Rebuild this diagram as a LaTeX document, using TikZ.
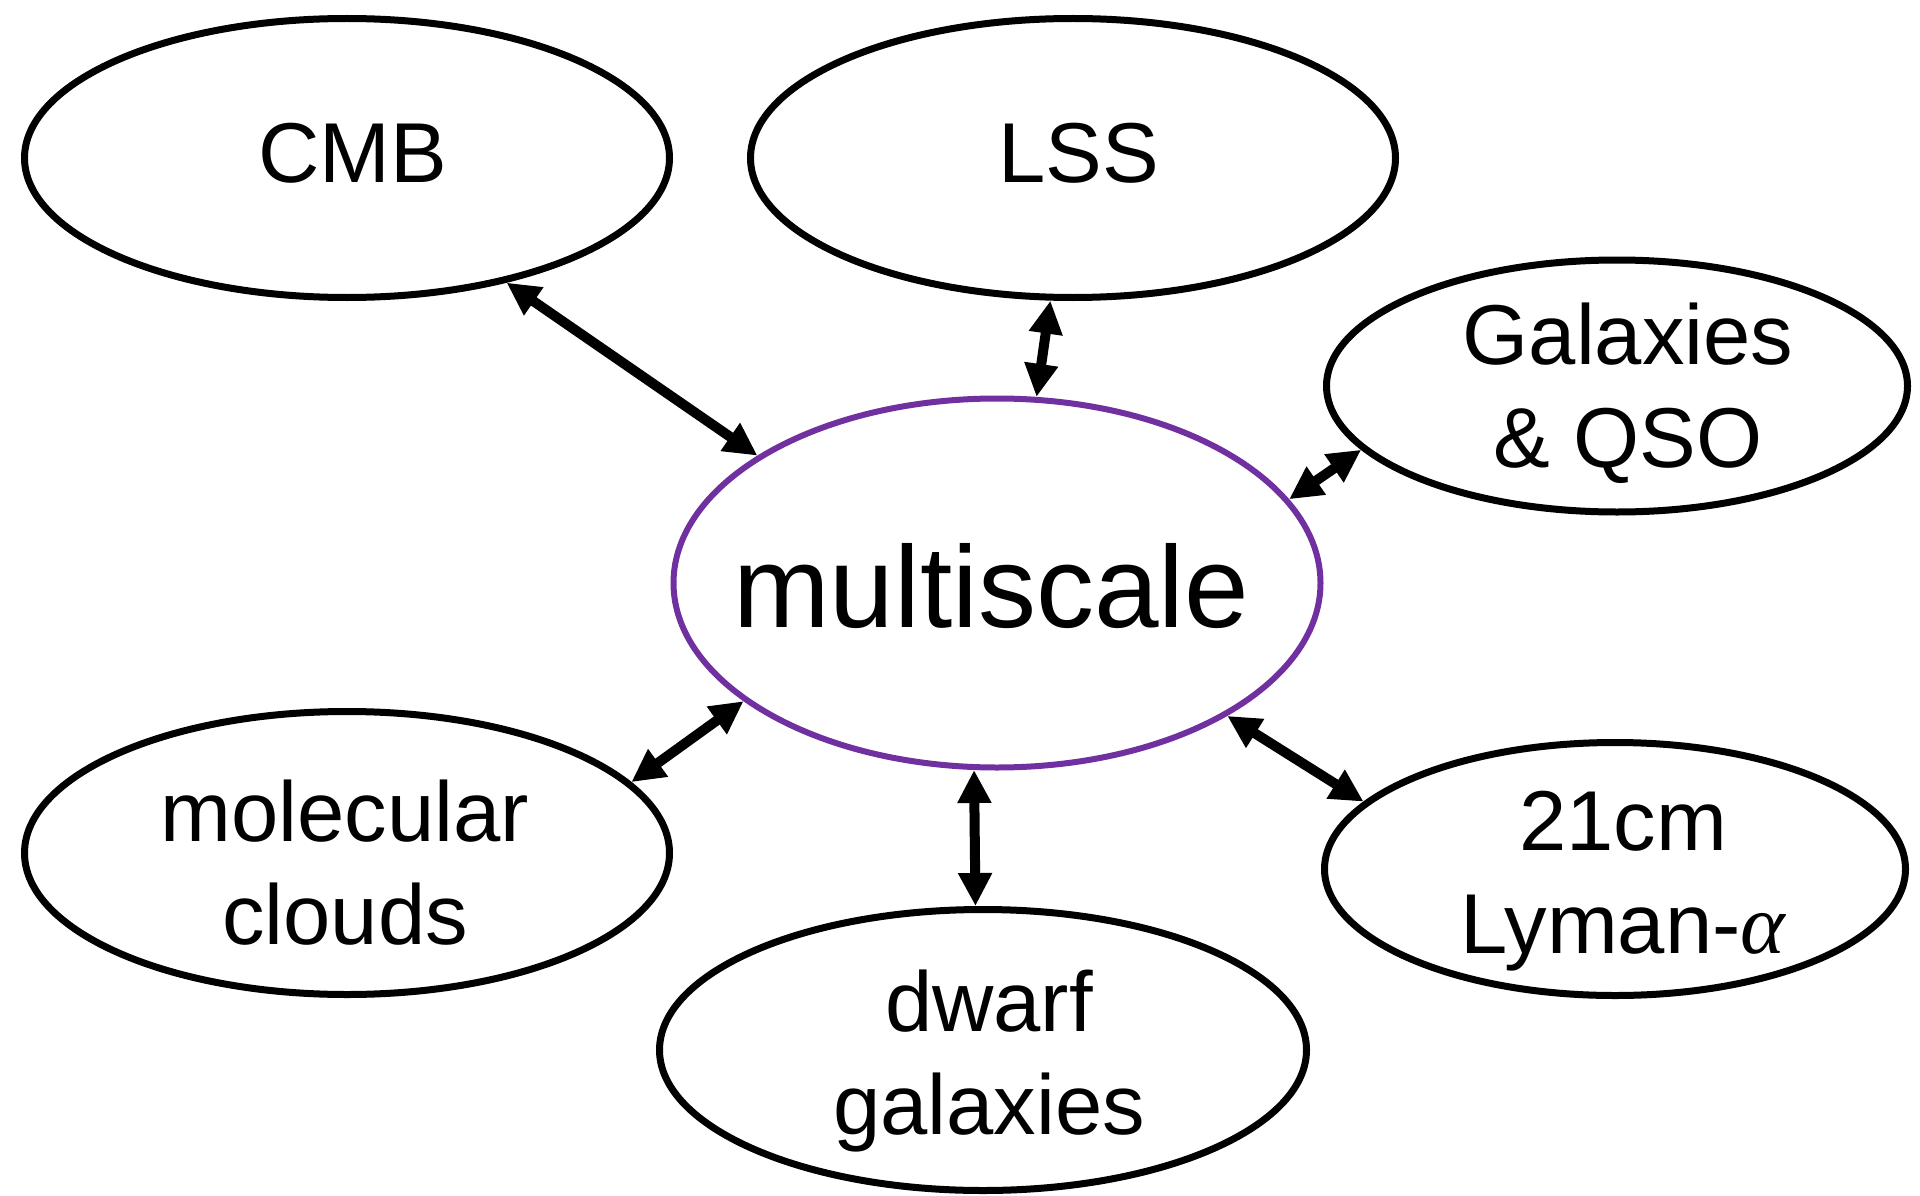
\documentclass[tikz,border=0pt]{standalone}
\usepackage{fontspec}
\setmainfont{Liberation Sans}
\newfontfamily\greekfont{Liberation Serif}
\usetikzlibrary{shapes.geometric,arrows.meta}
\definecolor{scalepurple}{HTML}{7030A0}
\begin{document}
\begin{tikzpicture}[x=1pt,y=-1pt,
  bubble/.style={ellipse, draw=black, line width=7pt, inner sep=0pt},
  bubbletext/.style={align=center, inner sep=0pt, font=\fontsize{85}{103}\selectfont},
  link/.style={line width=10pt, {Triangle[length=33pt,width=32pt]}-{Triangle[length=33pt,width=32pt]}}
]
\useasboundingbox (0,0) rectangle (1920,1196);

% outer topics
\node[bubble, minimum width=645pt, minimum height=279pt] (cmb)   at (347,158)  {};
\node[bubble, minimum width=645pt, minimum height=279pt] (lss)   at (1073,158) {};
\node[bubble, minimum width=581pt, minimum height=252pt] (gal)   at (1617,386) {};
\node[bubble, minimum width=645pt, minimum height=283pt] (mol)   at (347,853)  {};
\node[bubble, minimum width=647pt, minimum height=281pt] (dwarf) at (983,1050) {};
\node[bubble, minimum width=581pt, minimum height=253pt] (lya)   at (1615,869) {};

% central bubble
\node[bubble, draw=scalepurple, line width=6pt, minimum width=647pt, minimum height=369pt] (multi) at (997,583) {};

% labels
\node[bubbletext] (cmbt)   at ([shift={(6,-5)}]cmb.center)   {CMB};
\node[bubbletext] (lsst)   at ([shift={(6,-5)}]lss.center)   {LSS};
\node[bubbletext] (galt)   at ([shift={(11,7)}]gal.center)   {Galaxies\\\& QSO};
\node[bubbletext] (molt)   at ([shift={(-2,10)}]mol.center)  {molecular\\clouds};
\node[bubbletext] (dwarft) at ([shift={(6,11)}]dwarf.center) {dwarf\\galaxies};
\node[bubbletext] (lyat)   at ([shift={(8,12)}]lya.center)   {21cm\\Lyman-{\greekfont\itshape α}};
\node[bubbletext, font=\fontsize{116}{130}\selectfont] (multit) at ([shift={(-6,3)}]multi.center) {multiscale};

% two-way links to the centre
\draw[link] (cmb.-38)    -- (multi.152);
\draw[link] (lss.-99)    -- (multi.78.7);
\draw[link] (gal.194)    -- (multi.16.1);
\draw[link] (mol.14.8)   -- (multi.205.5);
\draw[link] (dwarf.93)   -- (multi.263.6);
\draw[link] (lya.165.9)  -- (multi.-30.3);
\end{tikzpicture}
\end{document}
